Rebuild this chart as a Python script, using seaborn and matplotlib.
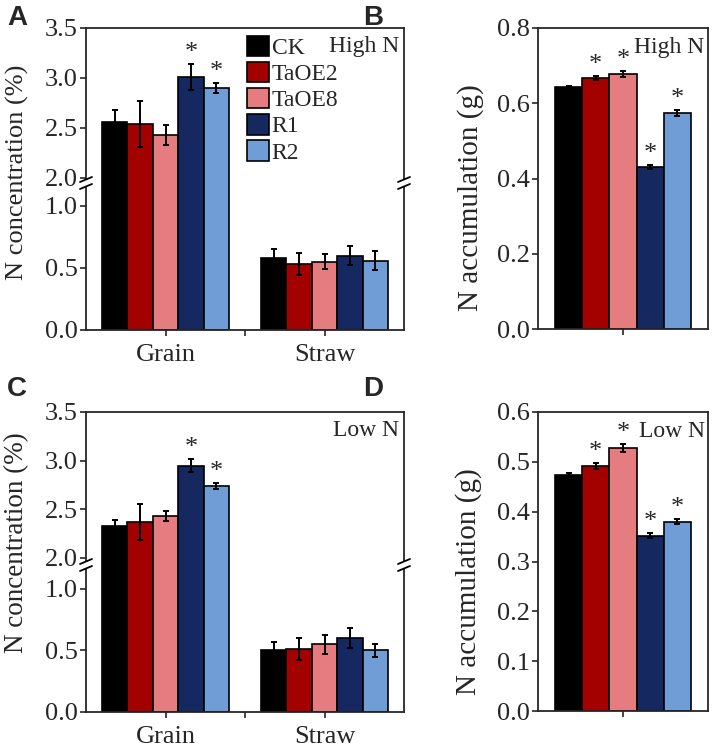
import pandas as pd
import matplotlib.pyplot as plt
import seaborn as sns
from matplotlib.lines import Line2D
from matplotlib.patches import Patch

# Wheat lines and plant parts
lines = ["CK", "TaOE2", "TaOE8", "R1", "R2"]
parts = ["Grain", "Straw"]
colors = ["#000000", "#A30000", "#E57C80", "#162860", "#719DD6"]

# A: N concentration, high N
high_grain = [2.56, 2.54, 2.43, 3.01, 2.90]
high_grain_err = [0.12, 0.23, 0.10, 0.13, 0.05]
high_straw = [0.58, 0.53, 0.55, 0.60, 0.56]
high_straw_err = [0.07, 0.09, 0.06, 0.08, 0.08]
high_grain_sig = [False, False, False, True, True]

# B: N accumulation, high N
high_acc = [0.643, 0.668, 0.678, 0.431, 0.574]
high_acc_err = [0.003, 0.005, 0.007, 0.005, 0.007]
high_acc_sig = [False, True, True, True, True]

# C: N concentration, low N
low_grain = [2.33, 2.37, 2.43, 2.95, 2.74]
low_grain_err = [0.06, 0.18, 0.05, 0.07, 0.03]
low_straw = [0.50, 0.51, 0.55, 0.60, 0.50]
low_straw_err = [0.07, 0.09, 0.08, 0.08, 0.05]
low_grain_sig = [False, False, False, True, True]

# D: N accumulation, low N
low_acc = [0.474, 0.492, 0.528, 0.352, 0.380]
low_acc_err = [0.004, 0.006, 0.008, 0.005, 0.005]
low_acc_sig = [False, True, True, True, True]

sns.set_style("ticks")
plt.rcParams["font.family"] = ["Liberation Serif", "DejaVu Serif"]
plt.rcParams["axes.linewidth"] = 1.3

W, H = 715, 748
fig = plt.figure(figsize=(W / 100, H / 100), dpi=100)


def rect(l, t, r, b):
    return [l / W, 1 - b / H, (r - l) / W, (b - t) / H]


def bars(ax, cats, values, errs, sig=None):
    df = pd.DataFrame({
        "part": [c for c in cats for _ in lines],
        "line": [ln for _ in cats for ln in lines],
        "value": [v for vals in values for v in vals],
    })
    sns.barplot(data=df, x="part", y="value", hue="line", hue_order=lines,
                order=cats, palette=colors, saturation=1, width=0.8,
                edgecolor="black", linewidth=1.2, errorbar=None,
                legend=False, ax=ax)
    conts = list(ax.containers)[:len(lines)]
    for i, cont in enumerate(conts):
        for j, bar in enumerate(cont.patches):
            x = bar.get_x() + bar.get_width() / 2
            y = values[j][i]
            e = errs[j][i]
            ax.errorbar(x, y, yerr=e, fmt="none", ecolor="black",
                        elinewidth=1.4, capsize=2.5, capthick=1.4)
            if sig is not None and j == 0 and sig[i]:
                ax.text(x, y + e, "*", ha="center", va="bottom",
                        fontsize=19)
    ax.set_xlabel("")
    ax.set_ylabel("")
    for s in ax.spines.values():
        s.set_visible(True)
        s.set_linewidth(1.3)
    ax.tick_params(direction="out", length=4, width=1.2, labelsize=19,
                   pad=2)


def broken_panel(top, mid, bot, ylo_top, yhi_bot, grain, grain_err,
                 straw, straw_err, sig, note, legend=False):
    ax_t = fig.add_axes(rect(86, top, 404, mid))
    ax_b = fig.add_axes(rect(86, mid, 404, bot))
    for ax in (ax_t, ax_b):
        bars(ax, parts, [grain, straw], [grain_err, straw_err],
             sig if ax is ax_t else None)
        ax.set_xlim(-0.5, 1.5)
    ax_t.set_ylim(ylo_top, 3.5)
    ax_t.set_yticks([2.0, 2.5, 3.0, 3.5])
    ax_t.set_yticklabels(["2.0", "2.5", "3.0", "3.5"])
    ax_t.tick_params(axis="x", bottom=False, labelbottom=False)
    ax_t.spines["bottom"].set_visible(False)
    ax_b.set_ylim(0, yhi_bot)
    ax_b.set_yticks([0.0, 0.5, 1.0])
    ax_b.set_yticklabels(["0.0", "0.5", "1.0"])
    ax_b.spines["top"].set_visible(False)
    ax_b.set_xticks([0, 1])
    ax_b.set_xticklabels(parts)
    ax_b.set_xticks([0.5], minor=True)
    ax_b.tick_params(axis="x", which="both", direction="out", length=4,
                     width=1.2, pad=6)
    # gap in the spines for the break marks
    gap_t = 4 * (3.5 - ylo_top) / (mid - top)
    gap_b = 4 * yhi_bot / (bot - mid)
    for side in ("left", "right"):
        ax_t.spines[side].set_bounds(ylo_top + gap_t, 3.5)
        ax_b.spines[side].set_bounds(0, yhi_bot - gap_b)
    yb = H - mid
    for x in (86, 404):
        for dy in (-4, 3):
            fig.add_artist(Line2D([(x - 6) / W, (x + 6) / W],
                                  [(yb + dy - 2) / H, (yb + dy + 3) / H],
                                  color="black", lw=1.3,
                                  transform=fig.transFigure))
    ax_t.text(0.985, 0.95, note, transform=ax_t.transAxes, ha="right",
              va="top", fontsize=17)
    if legend:
        handles = [Patch(facecolor=c, edgecolor="black", linewidth=1.2)
                   for c in colors]
        ax_t.legend(handles, lines, loc="upper left",
                    bbox_to_anchor=(0.505, 0.95), frameon=False,
                    fontsize=17, handlelength=0.95, handleheight=0.95,
                    handletextpad=0.12, labelspacing=0.12, borderpad=0,
                    borderaxespad=0)
    return ax_t, ax_b


def single_panel(top, bot, values, errs, sig, ymax, ticks, note):
    ax = fig.add_axes(rect(538, top, 708, bot))
    bars(ax, [""], [values], [errs], sig)
    ax.set_xlim(-0.5, 0.5)
    ax.set_xticks([0])
    ax.set_xticklabels([""])
    ax.set_ylim(0, ymax)
    ax.set_yticks(ticks)
    ax.set_yticklabels([f"{t:.1f}" for t in ticks])
    ax.text(0.98, 0.97, note, transform=ax.transAxes, ha="right",
            va="top", fontsize=17)
    return ax


broken_panel(28, 183, 330, 1.95, 1.185, high_grain, high_grain_err,
             high_straw, high_straw_err, high_grain_sig, "High N",
             legend=True)
broken_panel(412, 565, 712, 1.928, 1.195, low_grain, low_grain_err,
             low_straw, low_straw_err, low_grain_sig, "Low N")
single_panel(28, 329, high_acc, high_acc_err, high_acc_sig, 0.8,
             [0.0, 0.2, 0.4, 0.6, 0.8], "High N")
single_panel(412, 711, low_acc, low_acc_err, low_acc_sig, 0.6,
             [0.0, 0.1, 0.2, 0.3, 0.4, 0.5, 0.6], "Low N")

# y axis titles
fig.text(17 / W, 1 - 172 / H, "N concentration (%)", rotation=90,
         ha="center", va="center", fontsize=19)
fig.text(17 / W, 1 - 543 / H, "N concentration (%)", rotation=90,
         ha="center", va="center", fontsize=19.5)
fig.text(471 / W, 1 - 198 / H, "N accumulation (g)", rotation=90,
         ha="center", va="center", fontsize=21)
fig.text(469 / W, 1 - 582 / H, "N accumulation (g)", rotation=90,
         ha="center", va="center", fontsize=21)

# panel letters
for letter, x, y in [("A", 7, 5), ("B", 363, 5), ("C", 7, 376),
                     ("D", 363, 376)]:
    fig.text(x / W, 1 - y / H, letter, ha="left", va="top", fontsize=20,
             fontweight="bold", family="Liberation Sans")

fig.savefig("out.png", dpi=100)
